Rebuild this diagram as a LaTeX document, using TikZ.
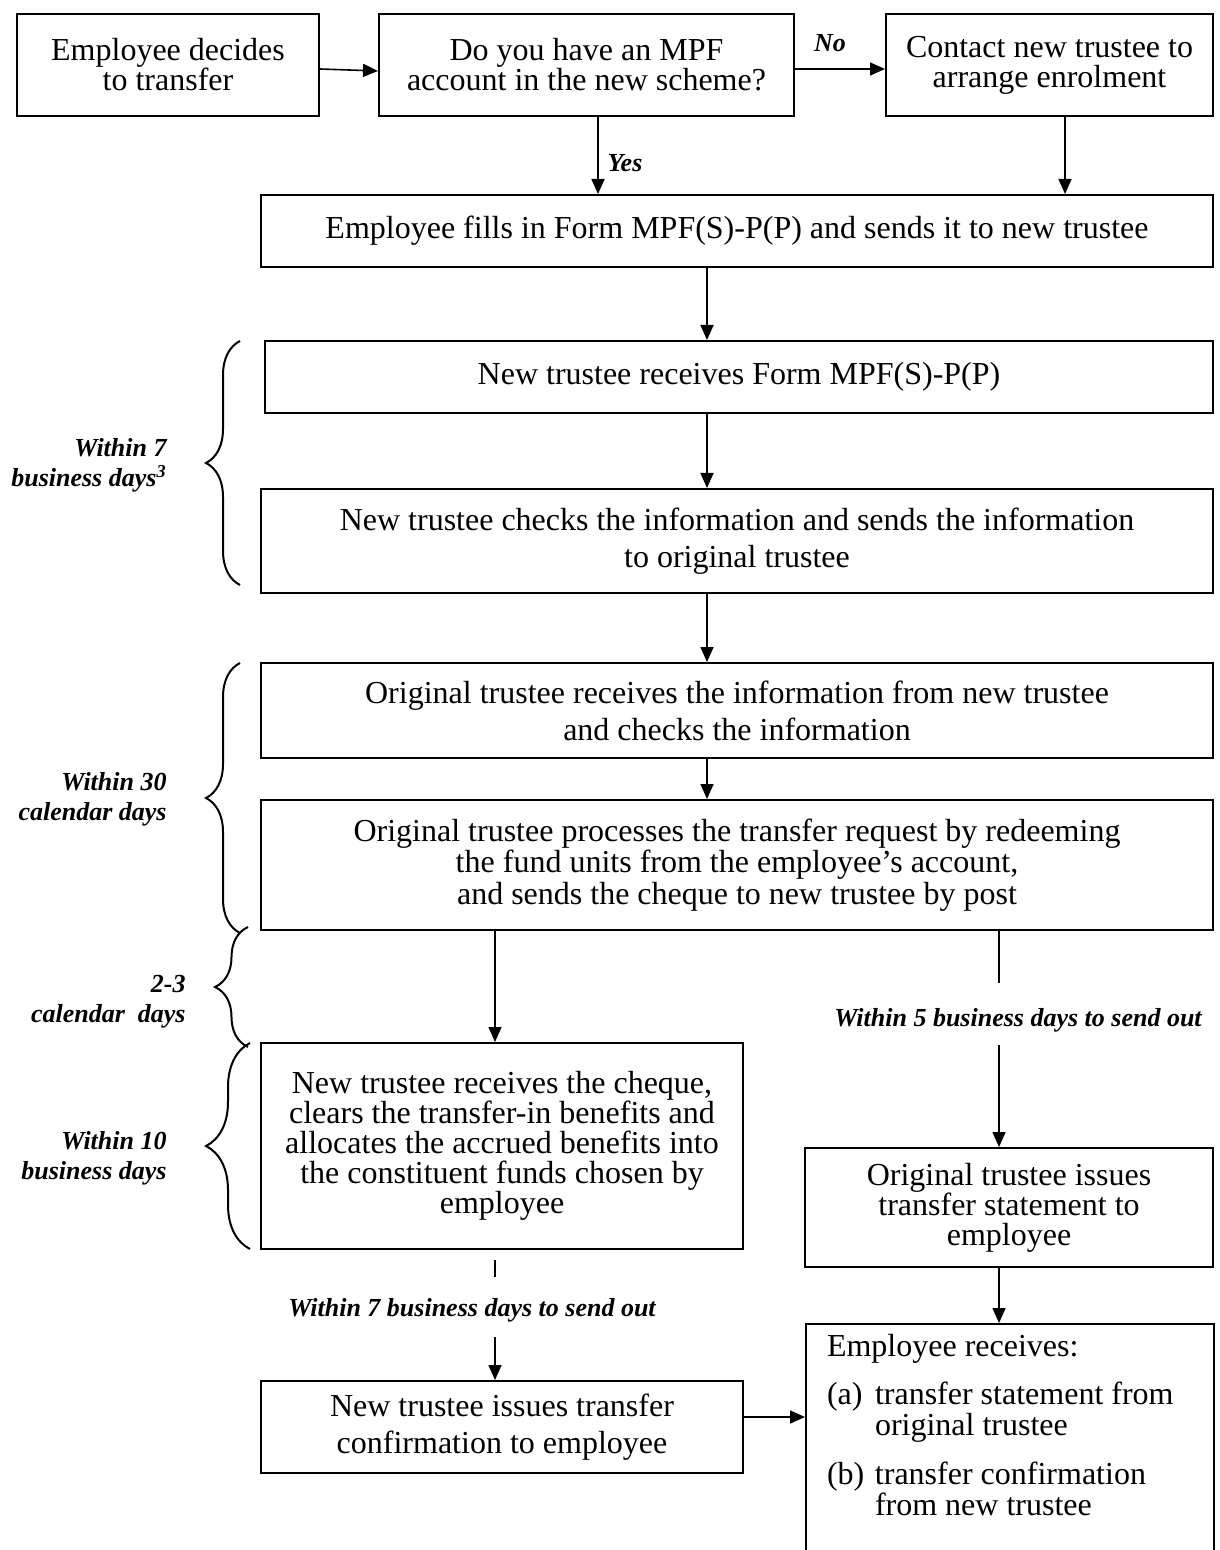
\documentclass[tikz,border=0pt]{standalone}
\usepackage{fontspec}
\setmainfont{Liberation Serif}
\usetikzlibrary{arrows.meta,decorations.pathreplacing}
\begin{document}
\begin{tikzpicture}[x=0.5pt,y=-0.5pt,
  box/.style={draw, line width=1pt, inner sep=0pt, align=center, font=\fontsize{16}{15}\selectfont},
  arr/.style={-{Triangle[length=7.5pt,width=6.5pt]}, line width=0.8pt},
  ln/.style={line width=0.8pt},
  lbl/.style={font=\fontsize{13}{15}\selectfont\bfseries\itshape, inner sep=0pt},
  brc/.style={decorate, decoration={brace, amplitude=#1}, line width=1pt}]
\useasboundingbox (0,0) rectangle (1219,1550);

% boxes
\node[box, minimum width=151pt, minimum height=51pt] (b1) at (168,65) {Employee decides\\to transfer};
\node[box, minimum width=207.5pt, minimum height=51pt] (b2) at (586.5,65) {Do you have an MPF\\account in the new scheme?};
\node[box, minimum width=163.5pt, minimum height=51pt] (b3) at (1049.5,65) {Contact new trustee to\\arrange enrolment};
\node[box, minimum width=476pt, minimum height=36pt] (b4) at (737,231) {Employee fills in Form MPF(S)-P(P) and sends it to new trustee};
\node[box, minimum width=474pt, minimum height=36pt] (b5) at (739,377) {New trustee receives Form MPF(S)-P(P)};
\node[box, minimum width=476pt, minimum height=52pt] (b6) at (737,541) {New trustee checks the information and sends the information\\[3.5pt]to original trustee};
\node[box, minimum width=476pt, minimum height=47.5pt] (b7) at (737,710.5) {Original trustee receives the information from new trustee\\[3.5pt]and checks the information};
\node[box, minimum width=476pt, minimum height=65pt] (b8) at (737,865) {Original trustee processes the transfer request by redeeming\\[0.75pt]the fund units from the employee’s account,\\[0.75pt]and sends the cheque to new trustee by post};
\node[box, minimum width=241pt, minimum height=103pt] (b9) at (502,1146) {New trustee receives the cheque,\\clears the transfer-in benefits and\\allocates the accrued benefits into\\the constituent funds chosen by\\employee};
\node[box, minimum width=204pt, minimum height=59.5pt] (b10) at (1009,1207.5) {Original trustee issues\\transfer statement to\\employee};
\node[box, minimum width=241pt, minimum height=46pt] (b11) at (502,1427) {New trustee issues transfer\\[3.5pt]confirmation to employee};
\node[draw, line width=1pt, anchor=north west, inner xsep=10.5pt, inner ysep=5.5pt,
      text height=10.5pt, text depth=105pt, font=\fontsize{16}{15}\selectfont] (b12) at (805,1323)
  {\makebox[183pt][l]{\begin{tabular}[t]{@{}l@{}l@{}}
   \multicolumn{2}{@{}l@{}}{Employee receives:}\\[8.5pt]
   \makebox[24pt][l]{(a)} & transfer statement from\\
    & original trustee\\[8.5pt]
   \makebox[24pt][l]{(b)} & transfer confirmation\\
    & from new trustee
   \end{tabular}}};

% labels
\node[lbl] (no) at (830,43) {No};
\node[lbl] (yes) at (625,163) {Yes};
\node[lbl, align=right, anchor=east] (t1) at (167,465) {Within 7\\business days\textsuperscript{3}};
\node[lbl, align=right, anchor=east] (t2) at (167,799) {Within 30\\calendar days};
\node[lbl, align=right, anchor=east] (t3) at (186,1002) {2-3\\calendar\ \ days};
\node[lbl, align=right, anchor=east] (t4) at (167,1158) {Within 10\\business days};
\node[lbl] (t5) at (1018,1020) {Within 5 business days to send out};
\node[lbl] (t6) at (472,1310) {Within 7 business days to send out};

% helper coordinates
\coordinate (cy) at (598,0);
\coordinate (cn) at (1065,0);
\coordinate (cm) at (707,0);
\coordinate (cl) at (495,0);
\coordinate (cr) at (999,0);
\coordinate (r1) at (999,983);
\coordinate (r2) at (999,1045);
\coordinate (l1) at (495,1260);
\coordinate (l2) at (495,1277);
\coordinate (l3) at (495,1337);

% connectors
\draw[arr] ([yshift=-2pt]b1.east) -- ([yshift=-3pt]b2.west);
\draw[arr] ([yshift=-2pt]b2.east) -- ([yshift=-2pt]b3.west);
\draw[arr] (b2.south -| cy) -- (b4.north -| cy);
\draw[arr] (b3.south -| cn) -- (b4.north -| cn);
\draw[arr] (b4.south -| cm) -- (b5.north -| cm);
\draw[arr] (b5.south -| cm) -- (b6.north -| cm);
\draw[arr] (b6.south -| cm) -- (b7.north -| cm);
\draw[arr] (b7.south -| cm) -- (b8.north -| cm);
\draw[arr] (b8.south -| cl) -- (b9.north -| cl);
\draw[ln] (b8.south -| cr) -- (r1);
\draw[arr] (r2) -- (b10.north -| cr);
\draw[arr] (b10.south -| cr) -- (b12.north -| cr);
\draw[ln] (l1) -- (l2);
\draw[arr] (l3) -- (b11.north -| cl);
\draw[arr] ([yshift=5pt]b11.east) -- ([yshift=5pt]b11.east -| b12.west);

% braces
\draw[brc=17pt] (240,585) -- (240,341);
\draw[brc=17pt] (240,933) -- (240,663);
\draw[brc=16.5pt] (248,1047) -- (248,927);
\draw[brc=22pt] (250,1249) -- (250,1043);
\end{tikzpicture}
\end{document}
